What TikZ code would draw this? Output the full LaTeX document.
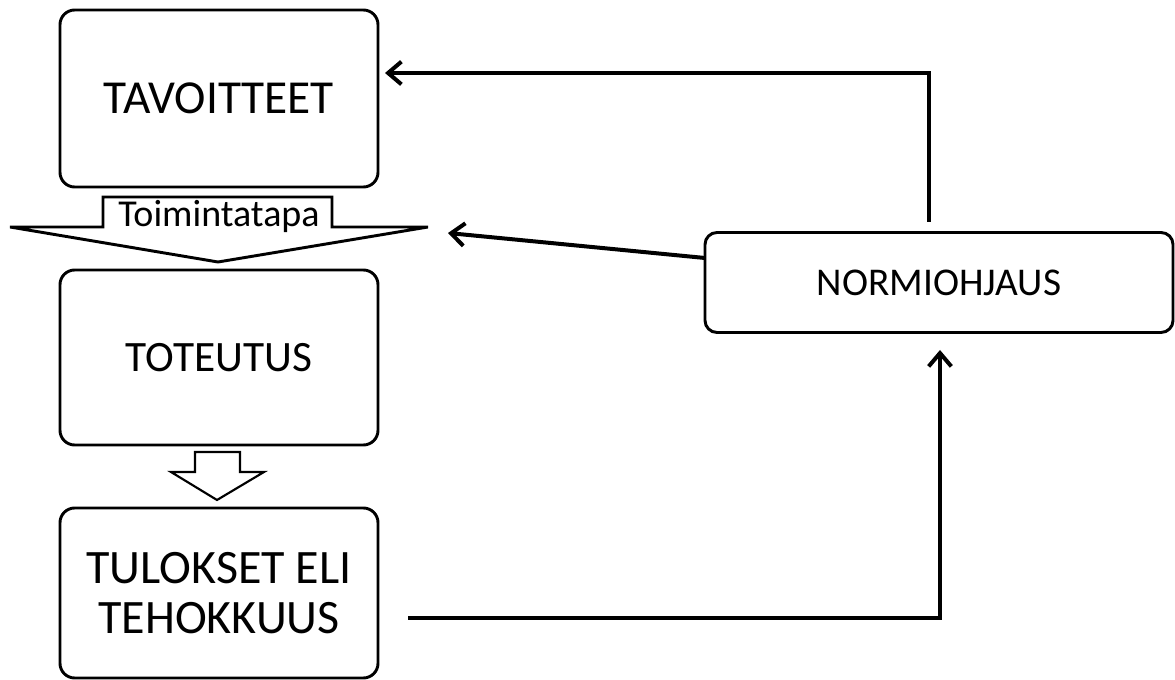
\documentclass[tikz,border=0pt]{standalone}
\usepackage{fontspec}
\setmainfont{Carlito}
\usetikzlibrary{arrows.meta}
\begin{document}
\begin{tikzpicture}[x=0.75pt,y=-0.75pt,
  box/.style={draw,line width=2.2pt,rounded corners=11pt,inner sep=0pt,align=center},
  conn/.style={line width=3pt,-{Straight Barb[length=10pt,width=17pt]}},
  bigarrow/.style={draw,line width=2.2pt,fill=white},
  smallarrow/.style={draw,line width=1.6pt,fill=white}]
\useasboundingbox (0,0) rectangle (1175,680);
\node[box,minimum width=238.5pt,minimum height=132.75pt,font=\fontsize{35.5}{38}\selectfont] (tav) at (219,98.5) {TAVOITTEET};
\node[box,minimum width=238.5pt,minimum height=131.25pt,font=\fontsize{32.5}{36}\selectfont] (tot) at (219,357.5) {TOTEUTUS};
\node[box,minimum width=238.5pt,minimum height=127.5pt,font=\fontsize{36}{37.5}\selectfont] (tul) at (219,593) {TULOKSET ELI\\TEHOKKUUS};
\node[box,minimum width=351pt,minimum height=75pt,rounded corners=9pt,font=\fontsize{29.5}{32}\selectfont] (norm) at (939,282.5) {NORMIOHJAUS};
% wide arrow Toimintatapa
\path[bigarrow] (103,197) -- (332,197) -- (332,227) -- (428,227) -- (218,262) -- (10,227) -- (103,227) -- cycle;
\node[anchor=base,inner sep=0pt,font=\fontsize{28.5}{30}\selectfont] (toim) at (219,227) {Toimintatapa};
\coordinate (wtip) at (448,233);
% small arrow
\path[smallarrow] (195,452) -- (240,452) -- (240,472) -- (264,472) -- (217,500) -- (171,472) -- (195,472) -- cycle;
% connectors
\coordinate (a1s) at (929,222);
\coordinate (a1e) at (385,73);
\draw[conn] (a1s) |- (a1e);
\coordinate (a2s) at (705,258);
\draw[conn] (a2s) -- (wtip);
\coordinate (a3s) at (408,618);
\coordinate (a3e) at (940,350);
\draw[conn] (a3s) -| (a3e);
\end{tikzpicture}
\end{document}
